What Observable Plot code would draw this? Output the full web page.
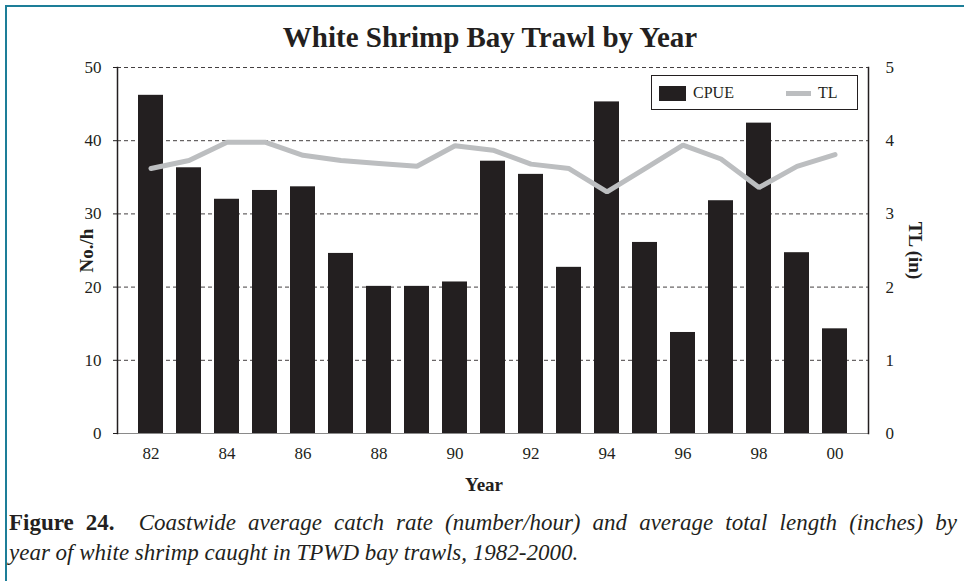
<!DOCTYPE html>
<html>
<head>
<meta charset="utf-8">
<script src="https://cdn.jsdelivr.net/npm/d3@7"></script>
<script src="https://cdn.jsdelivr.net/npm/@observablehq/plot@0.6"></script>
<style>
  html, body { margin: 0; padding: 0; background: #fff; }
  #wrap { position: relative; width: 964px; height: 581px; overflow: hidden; font-family: "Liberation Serif", serif; color: #231f20; }
  #border { position: absolute; left: 5px; top: 5px; width: 980px; height: 600px; border-top: 2px solid #1d7e98; border-left: 2px solid #1d7e98; }
  #title { position: absolute; left: 0; top: 17px; width: 980px; text-align: center; font-weight: bold; font-size: 29px; line-height: 40px; }
  #chart { position: absolute; left: 0; top: 50px; }
  #chart svg, #chart svg g, #chart svg text { font-family: "Liberation Serif", serif !important; }
  #legend { position: absolute; left: 651px; top: 75px; width: 205px; height: 33px; border: 1.5px solid #231f20; background: #fff; font-size: 16px; }
  #legend .sw { position: absolute; left: 7px; top: 10px; width: 27px; height: 15px; background: #231f20; }
  #legend .l1 { position: absolute; left: 41px; top: 7px; line-height: 20px; }
  #legend .ln { position: absolute; left: 134px; top: 15px; width: 25px; height: 4.5px; background: #bcbec0; }
  #legend .l2 { position: absolute; left: 166px; top: 7px; line-height: 20px; }
  .cap { position: absolute; left: 9px; width: 948px; font-size: 23px; line-height: 30px; white-space: nowrap; }
  .cap i { font-style: italic; }
  #cap1 { top: 508px; text-align: justify; text-align-last: justify; white-space: normal; }
  #cap2 { top: 538px; }
</style>
</head>
<body>
<div id="wrap">
  <div id="border"></div>
  <div id="title">White Shrimp Bay Trawl by Year</div>
  <div id="chart"></div>
  <div id="legend"><div class="sw"></div><div class="l1">CPUE</div><div class="ln"></div><div class="l2">TL</div></div>
  <div class="cap" id="cap1"><b>Figure 24.</b>&nbsp; <i>Coastwide average catch rate (number/hour) and average total length (inches) by</i></div>
  <div class="cap" id="cap2"><i>year of white shrimp caught in TPWD bay trawls, 1982-2000.</i></div>
</div>
<script>
const years = [1982,1983,1984,1985,1986,1987,1988,1989,1990,1991,1992,1993,1994,1995,1996,1997,1998,1999,2000];
const cpue  = [46.2,36.3,32.0,33.2,33.7,24.6,20.1,20.1,20.7,37.2,35.4,22.7,45.3,26.1,13.8,31.8,42.4,24.7,14.3];
const tl    = [3.62,3.73,3.98,3.98,3.80,3.73,3.69,3.65,3.93,3.87,3.68,3.62,3.30,3.62,3.94,3.75,3.36,3.65,3.81];
const leftTicks = [0,10,20,30,40,50];
const rightTicks = [0,1,2,3,4,5];
const xTickYears = [1982,1984,1986,1988,1990,1992,1994,1996,1998,2000];

const rows = years.map((y,i) => ({year: y, cpue: cpue[i], tl: tl[i], tlScaled: tl[i] * 10}));
const ink = "#231f20";
const serif = "Liberation Serif";

const chart = Plot.plot({
  width: 964,
  height: 460,
  marginLeft: 117,
  marginRight: 96,
  marginTop: 17,
  marginBottom: 77,
  style: {fontFamily: "'Liberation Serif', serif", fontSize: "17px", color: ink, background: "transparent"},
  x: {type: "band", domain: years, padding: 0.34},
  y: {domain: [0, 50]},
  marks: [
    Plot.gridY(leftTicks.filter(d => d > 0), {stroke: ink, strokeOpacity: 0.85, strokeDasharray: "4,3", strokeWidth: 1}),
    Plot.ruleY([0], {stroke: "#8a8a8a", strokeWidth: 1}),
    Plot.barY(rows, {x: "year", y: "cpue", fill: ink}),
    Plot.lineY(rows, {x: "year", y: "tlScaled", stroke: "#bcbec0", strokeWidth: 5, strokeLinejoin: "miter"}),
    Plot.frame({anchor: "left", stroke: ink, strokeWidth: 1.5}),
    Plot.frame({anchor: "right", stroke: ink, strokeWidth: 1.5}),
    Plot.axisY(leftTicks, {anchor: "left", tickSize: 4, tickPadding: 12, label: null, stroke: ink, fontSize: 17, fontFamily: serif, fill: ink}),
    Plot.axisY(rightTicks.map(d => d * 10), {anchor: "right", tickSize: 0, tickPadding: 17, label: null, fontSize: 17, fontFamily: serif, fill: ink, tickFormat: d => String(d / 10)}),
    Plot.axisX(xTickYears, {anchor: "bottom", tickSize: 0, tickPadding: 13, label: null, fontSize: 17, fontFamily: serif, fill: ink, tickFormat: d => String(d % 100).padStart(2, "0")}),
    Plot.text(["No./h"], {frameAnchor: "left", textAnchor: "middle", dx: -31, rotate: -90, fontWeight: "bold", fontSize: 19, fontFamily: serif, fill: ink}),
    Plot.text(["TL (in)"], {frameAnchor: "right", textAnchor: "middle", dx: 47, rotate: 90, fontWeight: "bold", fontSize: 19, fontFamily: serif, fill: ink}),
    Plot.text(["Year"], {frameAnchor: "bottom", dx: -9, dy: 57, fontWeight: "bold", fontSize: 19, fontFamily: serif, fill: ink})
  ]
});
document.getElementById("chart").appendChild(chart);
</script>
</body>
</html>
